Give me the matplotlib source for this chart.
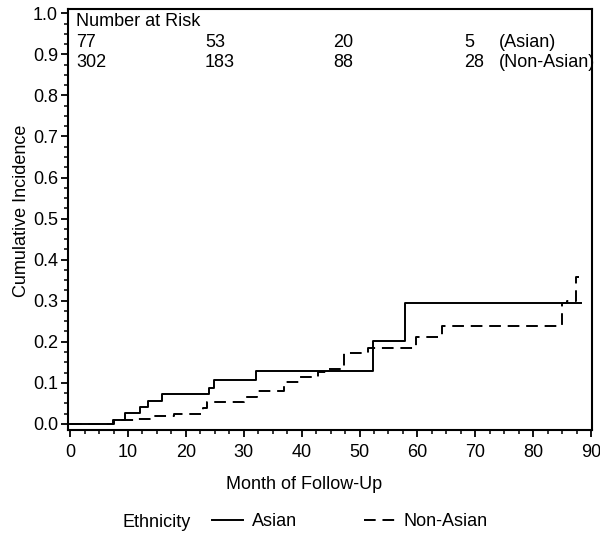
import matplotlib
matplotlib.use("Agg")
import matplotlib.pyplot as plt
from matplotlib.ticker import MultipleLocator

plt.rcParams['font.family'] = ['Liberation Sans', 'DejaVu Sans']

# step curves (month, cumulative incidence)
asian_t = [0, 7.4, 9.5, 12.1, 13.4, 15.9, 24.0, 24.8, 32.1, 52.3, 57.8, 88.3]
asian_y = [0, 0.010, 0.027, 0.041, 0.056, 0.073, 0.088, 0.107, 0.129, 0.202, 0.294, 0.294]

nonasian_t = [0, 7.5, 11.0, 14.5, 18.0, 22.9, 23.6, 28.4, 30.0, 32.3, 37.0, 39.6, 42.8,
              44.8, 47.4, 51.4, 59.7, 64.3, 85.0, 85.8, 87.4, 88.0]
nonasian_y = [0, 0.010, 0.012, 0.018, 0.024, 0.038, 0.053, 0.053, 0.066, 0.080, 0.102,
              0.114, 0.126, 0.134, 0.172, 0.185, 0.212, 0.238, 0.294, 0.300, 0.357, 0.357]

risk_months = [1.0, 23.3, 45.5, 68.1]
risk_asian = ["77", "53", "20", "5"]
risk_nonasian = ["302", "183", "88", "28"]
risk_label_x = 74.1

FS = 13

fig = plt.figure(figsize=(6, 5.4), dpi=100)
ax = fig.add_axes([0.113, 0.204, 0.874, 0.779])

ax.step(asian_t, asian_y, where='post', color='black', lw=1.4, label='Asian')
ax.step(nonasian_t, nonasian_y, where='post', color='black', lw=1.4,
        linestyle=(0, (6, 3.5)), label='Non-Asian')

ax.set_xlim(-0.4, 90.2)
ax.set_ylim(-0.0146, 1.01)
ax.xaxis.set_major_locator(MultipleLocator(10))
ax.xaxis.set_minor_locator(MultipleLocator(2.5))
ax.yaxis.set_major_locator(MultipleLocator(0.1))
ax.yaxis.set_minor_locator(MultipleLocator(0.025))
ax.yaxis.set_major_formatter(plt.FuncFormatter(lambda v, p: f"{v:.1f}"))
ax.tick_params(which='major', length=5, width=1.3, labelsize=FS)
ax.tick_params(axis='x', which='major', pad=5)
ax.tick_params(axis='y', which='major', pad=2)
ax.tick_params(which='minor', length=3, width=1.1)
for s in ax.spines.values():
    s.set_linewidth(1.5)

ax.set_xlabel("Month of Follow-Up", fontsize=FS)
ax.set_ylabel("Cumulative Incidence", fontsize=FS)
ax.xaxis.set_label_coords(0.45, -0.11)
ax.yaxis.set_label_coords(-0.072, 0.52)

# number at risk table
ax.text(1.0, 0.969, "Number at Risk", fontsize=FS, va='baseline')
for x, a, n in zip(risk_months, risk_asian, risk_nonasian):
    ax.text(x, 0.9175, a, fontsize=FS, va='baseline')
    ax.text(x, 0.869, n, fontsize=FS, va='baseline')
ax.text(risk_label_x, 0.9175, "(Asian)", fontsize=FS, va='baseline')
ax.text(risk_label_x, 0.869, "(Non-Asian)", fontsize=FS, va='baseline')

# legend row below the x label
fig.text(122 / 600, 1 - 527 / 540, "Ethnicity", fontsize=FS, va='baseline')
fig.legend(loc='center left', bbox_to_anchor=(205 / 600, 1 - 522 / 540), ncol=2,
           frameon=False, fontsize=FS, handlelength=1.7, handletextpad=0.5,
           columnspacing=3.7, borderaxespad=0)

fig.savefig("out.png", dpi=100)
